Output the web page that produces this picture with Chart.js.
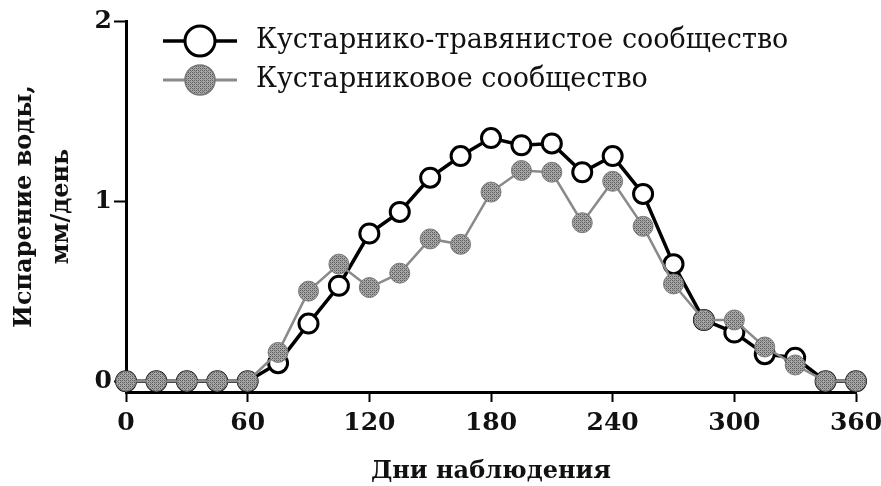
<!DOCTYPE html>
<html>
<head>
<meta charset="utf-8">
<script src="https://cdn.jsdelivr.net/npm/chart.js@4"></script>
<style>
  html, body { margin: 0; padding: 0; background: #fff; }
  #wrap { width: 881px; height: 486px; }
</style>
</head>
<body>
<div id="wrap"><canvas id="c" width="881" height="486"></canvas></div>
<script>
const days = [0,15,30,45,60,75,90,105,120,135,150,165,180,195,210,225,240,255,270,285,300,315,330,345,360];
const shrubGrass = [0,0,0,0,0,0.10,0.32,0.53,0.82,0.94,1.13,1.25,1.35,1.31,1.32,1.16,1.25,1.04,0.65,0.34,0.27,0.15,0.13,0,0];
const shrub      = [0,0,0,0,0,0.16,0.50,0.65,0.52,0.60,0.79,0.76,1.05,1.17,1.16,0.88,1.11,0.86,0.54,0.34,0.34,0.19,0.09,0,0];
const xTicks = [0,60,120,180,240,300,360];
const yTicks = [0,1,2];
const legendLabels = ['Кустарнико-травянистое сообщество', 'Кустарниковое сообщество'];
const xTitle = 'Дни наблюдения';
const yTitle = ['Испарение воды,', 'мм/день'];

const FONT = 'DejaVu Serif';

// stippled gray fill for the shrub markers
function stipple(){
  const p = document.createElement('canvas');
  p.width = 4; p.height = 4;
  const g = p.getContext('2d');
  g.fillStyle = '#a8a8a8'; g.fillRect(0,0,4,4);
  g.fillStyle = '#5e5e5e';
  g.fillRect(0,0,1,1); g.fillRect(2,2,1,1); g.fillRect(2,0,1,1); g.fillRect(0,2,1,1);
  g.fillStyle = '#7a7a7a';
  g.fillRect(1,1,1,1); g.fillRect(3,3,1,1);
  return document.getElementById('c').getContext('2d').createPattern(p, 'repeat');
}
const grayFill = stipple();

const legendPlugin = {
  id: 'inlineLegend',
  afterDraw(chart){
    const ctx = chart.ctx;
    const rows = [
      {y: 41, line: '#000', lw: 3.5, fill: '#fff', stroke: '#000', sw: 3},
      {y: 80, line: '#8a8a8a', lw: 3, fill: grayFill, stroke: '#777', sw: 1.5}
    ];
    ctx.save();
    rows.forEach((r, i) => {
      ctx.strokeStyle = r.line; ctx.lineWidth = r.lw;
      ctx.beginPath(); ctx.moveTo(163, r.y); ctx.lineTo(237, r.y); ctx.stroke();
      ctx.beginPath(); ctx.arc(200, r.y, 15, 0, Math.PI*2);
      ctx.fillStyle = r.fill; ctx.fill();
      ctx.strokeStyle = r.stroke; ctx.lineWidth = r.sw; ctx.stroke();
      ctx.fillStyle = '#111';
      ctx.font = '27px "' + FONT + '"';
      ctx.textBaseline = 'middle'; ctx.textAlign = 'left';
      ctx.fillText(legendLabels[i], 256, r.y);
    });
    ctx.restore();
  }
};

new Chart(document.getElementById('c'), {
  type: 'line',
  data: {
    datasets: [
      {
        label: legendLabels[0],
        data: days.map((d,i) => ({x: d, y: shrubGrass[i]})),
        borderColor: '#000', borderWidth: 3.5,
        pointRadius: 9.5, pointBackgroundColor: '#fff', pointBorderColor: '#000', pointBorderWidth: 3,
        tension: 0, order: 1
      },
      {
        label: legendLabels[1],
        data: days.map((d,i) => ({x: d, y: shrub[i]})),
        borderColor: '#8a8a8a', borderWidth: 2.5,
        pointRadius: 10, pointBackgroundColor: grayFill, pointBorderColor: '#7a7a7a', pointBorderWidth: 1,
        tension: 0, order: 0
      }
    ]
  },
  options: {
    responsive: false, animation: false,
    clip: false,
    layout: { padding: { top: 21, right: 25, left: 0, bottom: 0 } },
    plugins: { legend: { display: false }, tooltip: { enabled: false } },
    scales: {
      x: {
        type: 'linear', min: 0, max: 360,
        afterBuildTicks: s => { s.ticks = xTicks.map(v => ({value: v})); },
        afterFit: s => { s.height = 94; s.paddingLeft = 0; s.paddingRight = 0; },
        border: { display: true, color: '#000', width: 3 },
        grid: { drawOnChartArea: false, drawTicks: true, tickLength: 10, tickColor: '#000', tickWidth: 2 },
        ticks: { color: '#111', font: { family: FONT, size: 25, weight: 'bold' }, padding: 6, maxRotation: 0 },
        title: { display: true, text: xTitle, color: '#111', font: { family: FONT, size: 24, weight: 'bold' }, padding: { top: 4, bottom: 0 } }
      },
      y: {
        type: 'linear', min: -0.06, max: 2,
        afterBuildTicks: s => { s.ticks = yTicks.map(v => ({value: v})); },
        afterFit: s => { s.width = 126; },
        border: { display: true, color: '#000', width: 3 },
        grid: { drawOnChartArea: false, drawTicks: true, tickLength: 12, tickColor: '#000', tickWidth: 2 },
        ticks: { color: '#111', font: { family: FONT, size: 25, weight: 'bold' }, padding: 2 },
        title: { display: true, text: yTitle, color: '#111', font: { family: FONT, size: 24, weight: 'bold', lineHeight: 1.55 }, padding: { top: 6, bottom: 0 } }
      }
    }
  },
  plugins: [legendPlugin]
});
</script>
</body>
</html>
